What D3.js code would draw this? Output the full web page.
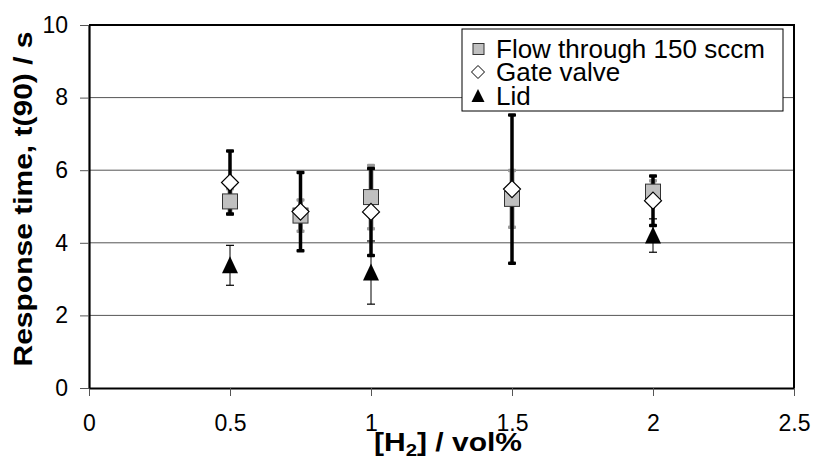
<!DOCTYPE html>
<html>
<head>
<meta charset="utf-8">
<script src="https://cdn.jsdelivr.net/npm/d3@7"></script>
<style>
  body { margin: 0; background: #fff; }
  svg { display: block; font-family: "Liberation Sans", Arial, sans-serif; }
</style>
</head>
<body>
<svg id="chart" width="813" height="459"></svg>
<script>
// data
var flowX = [0.5, 0.75, 1, 1.5, 2];
var flowY = [5.14, 4.75, 5.26, 5.21, 5.41];
var flowErr = [0.35, 0.43, 0.87, 0.78, 0.3];

var gateX = [0.5, 0.75, 1, 1.5, 2];
var gateY = [5.66, 4.86, 4.85, 5.48, 5.16];
var gateErr = [0.87, 1.08, 1.2, 2.04, 0.68];

var lidX = [0.5, 1, 2];
var lidY = [3.38, 3.18, 4.2];
var lidErr = [0.55, 0.87, 0.46];

var xTicks = [0, 0.5, 1, 1.5, 2, 2.5];
var xTickLabels = ["0", "0.5", "1", "1.5", "2", "2.5"];
var yTicks = [0, 2, 4, 6, 8, 10];
var yTickLabels = ["0", "2", "4", "6", "8", "10"];
var legendNames = ["Flow through 150 sccm", "Gate valve", "Lid"];

function zip(xs, ys, es){
  return xs.map(function(x, i){ return {x: x, y: ys[i], e: es[i]}; });
}
var flow = zip(flowX, flowY, flowErr);
var gate = zip(gateX, gateY, gateErr);
var lid = zip(lidX, lidY, lidErr);

var svg = d3.select("#chart");
// plot box (note: "top" is taken by window, so use p*)
var pLeft = 89, pRight = 794, pTop = 25, pBottom = 388;

var x = d3.scaleLinear().domain([0, 2.5]).range([pLeft, pRight]);
var y = d3.scaleLinear().domain([0, 10]).range([pBottom, pTop]);

// gridlines
svg.append("g")
  .selectAll("line")
  .data(yTicks.filter(function(d){ return d > 0 && d < 10; }))
  .enter().append("line")
    .attr("x1", pLeft).attr("x2", pRight)
    .attr("y1", function(d){ return y(d); })
    .attr("y2", function(d){ return y(d); })
    .attr("stroke", "#555")
    .attr("stroke-width", 1);

// frame top + right
svg.append("path")
  .attr("d", "M" + pLeft + "," + pTop + "H" + pRight + "V" + pBottom)
  .attr("fill", "none")
  .attr("stroke", "#000")
  .attr("stroke-width", 2);

// axes
var xAxis = svg.append("g")
  .attr("transform", "translate(0," + pBottom + ")")
  .call(d3.axisBottom(x).tickValues(xTicks)
    .tickFormat(function(d, i){ return xTickLabels[i]; })
    .tickSize(8).tickPadding(19).tickSizeOuter(0));
var yAxis = svg.append("g")
  .attr("transform", "translate(" + pLeft + ",0)")
  .call(d3.axisLeft(y).tickValues(yTicks)
    .tickFormat(function(d, i){ return yTickLabels[i]; })
    .tickSize(9).tickPadding(12).tickSizeOuter(0));

[xAxis, yAxis].forEach(function(a){
  a.select(".domain").attr("stroke", "#000").attr("stroke-width", 2.2);
  a.selectAll(".tick line").attr("stroke", "#555").attr("stroke-width", 1);
  a.selectAll(".tick text")
    .attr("fill", "#000")
    .style("font-size", "23px")
    .style("font-family", "'Liberation Sans', Arial, sans-serif");
});

// error bars
function errorBars(data, color, width, capW, capH){
  var g = svg.append("g");
  g.selectAll("line.bar").data(data).enter().append("line")
    .attr("x1", function(d){ return x(d.x); })
    .attr("x2", function(d){ return x(d.x); })
    .attr("y1", function(d){ return y(d.y + d.e); })
    .attr("y2", function(d){ return y(d.y - d.e); })
    .attr("stroke", color).attr("stroke-width", width);
  var caps = [];
  data.forEach(function(d){ caps.push({x: d.x, v: d.y + d.e}); caps.push({x: d.x, v: d.y - d.e}); });
  g.selectAll("rect.cap").data(caps).enter().append("rect")
    .attr("x", function(d){ return x(d.x) - capW / 2; })
    .attr("y", function(d){ return y(d.v) - capH / 2; })
    .attr("width", capW).attr("height", capH)
    .attr("rx", capH > 1.5 ? 1 : 0)
    .attr("fill", color);
}
errorBars(flow, "#999", 5, 8, 3.5);
errorBars(gate, "#000", 3.5, 8, 3.5);
errorBars(lid, "#000", 1, 8, 1.2);

// markers
svg.append("g").selectAll("rect").data(flow).enter().append("rect")
  .attr("x", function(d){ return x(d.x) - 7.5; })
  .attr("y", function(d){ return y(d.y) - 7.5; })
  .attr("width", 15).attr("height", 15)
  .attr("fill", "#c0c0c0").attr("stroke", "#333").attr("stroke-width", 1);

svg.append("g").selectAll("path").data(gate).enter().append("path")
  .attr("d", function(d){
    var cx = x(d.x), cy = y(d.y), r = 8.5;
    return "M" + cx + "," + (cy - r) + "L" + (cx + r) + "," + cy + "L" + cx + "," + (cy + r) + "L" + (cx - r) + "," + cy + "Z";
  })
  .attr("fill", "#fff").attr("stroke", "#000").attr("stroke-width", 1.2);

svg.append("g").selectAll("path").data(lid).enter().append("path")
  .attr("d", function(d){
    var cx = x(d.x), cy = y(d.y);
    return "M" + cx + "," + (cy - 9) + "L" + (cx + 8) + "," + (cy + 8) + "L" + (cx - 8) + "," + (cy + 8) + "Z";
  })
  .attr("fill", "#000");

// legend
var lg = svg.append("g");
lg.append("rect")
  .attr("x", 462).attr("y", 29).attr("width", 321).attr("height", 82)
  .attr("fill", "#fff").attr("stroke", "#000").attr("stroke-width", 1);
var rowY = [49, 72, 96];
lg.append("rect").attr("x", 473).attr("y", rowY[0] - 5.5).attr("width", 11).attr("height", 11)
  .attr("fill", "#c0c0c0").attr("stroke", "#333").attr("stroke-width", 1);
lg.append("path")
  .attr("d", "M478," + (rowY[1] - 6.5) + "l6.5,6.5l-6.5,6.5l-6.5,-6.5z")
  .attr("fill", "#fff").attr("stroke", "#000").attr("stroke-width", 1);
lg.append("path")
  .attr("d", "M478," + (rowY[2] - 7) + "l6.5,13h-13z")
  .attr("fill", "#000");
lg.selectAll("text").data(legendNames).enter().append("text")
  .attr("x", 496)
  .attr("y", function(d, i){ return rowY[i] + 9; })
  .style("font-size", "26px")
  .text(function(d){ return d; });

// axis titles (the reference font runs wider than Arial, so stretch along the text)
svg.append("text")
  .attr("transform", "translate(32,199) rotate(-90) scale(1.2,1)")
  .attr("text-anchor", "middle")
  .style("font-size", "25px").style("font-weight", "bold")
  .text("Response time, t(90) / s");

var xt = svg.append("text")
  .attr("transform", "translate(448,451) scale(1.2,1)")
  .attr("text-anchor", "middle")
  .style("font-size", "25px").style("font-weight", "bold");
xt.append("tspan").text("[H");
xt.append("tspan").attr("dy", 5).style("font-size", "17px").text("2");
xt.append("tspan").attr("dy", -5).text("] / vol%");
</script>
</body>
</html>
